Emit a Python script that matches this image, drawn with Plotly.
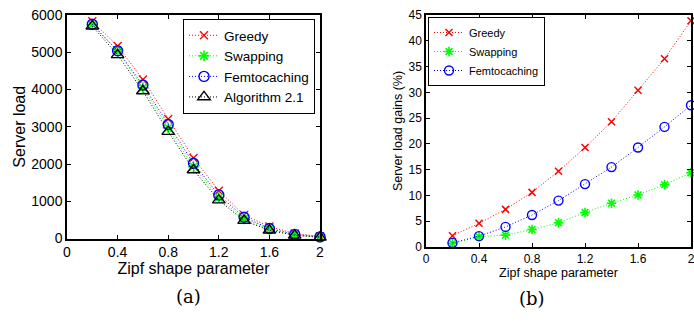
import plotly.graph_objects as go

zipf = [0.2, 0.4, 0.6, 0.8, 1.0, 1.2, 1.4, 1.6, 1.8, 2.0]

# (a) Server load
load_greedy = [5830, 5170, 4270, 3210, 2160, 1280, 630, 320, 135, 57]
load_swapping = [5740, 5030, 4050, 2970, 1930, 1100, 525, 245, 97, 37]
load_femto = [5750, 5040, 4120, 3060, 2020, 1170, 570, 270, 110, 44]
load_alg = [5700, 4930, 3960, 2870, 1840, 1030, 480, 220, 85, 32]

# (b) Server load gains (%)
gain_greedy = [2.2, 4.6, 7.3, 10.6, 14.7, 19.3, 24.3, 30.4, 36.5, 43.9]
gain_swapping = [0.7, 2.0, 2.3, 3.4, 4.7, 6.7, 8.5, 10.1, 12.1, 14.4]
gain_femto = [0.8, 2.1, 3.9, 6.2, 9.0, 12.2, 15.5, 19.3, 23.3, 27.5]

x_ticks = [0, 0.4, 0.8, 1.2, 1.6, 2]
x_ticklabels = ["0", "0.4", "0.8", "1.2", "1.6", "2"]
left_yticks = [0, 1000, 2000, 3000, 4000, 5000, 6000]
right_yticks = [0, 5, 10, 15, 20, 25, 30, 35, 40, 45]

W, H = 694, 330
FONT = "Liberation Sans, Arial, Helvetica, sans-serif"

RED, GREEN, BLUE, BLACK = "#ff0000", "#00ff00", "#0000ff", "#000000"
DOT = "1px,2px"

fig = go.Figure()

def add(x, y, name, color, symbol, size, xa, ya, legend, lw=1.3):
    fig.add_trace(go.Scatter(
        x=x, y=y, name=name, mode="lines+markers",
        line=dict(color=color, width=1, dash=DOT),
        marker=dict(symbol=symbol, size=size, color=color,
                    line=dict(color=color, width=lw)),
        xaxis=xa, yaxis=ya, legend=legend, cliponaxis=False,
    ))

# left panel
add(zipf, load_greedy, "Greedy", RED, "x-thin-open", 8, "x", "y", "legend")
add(zipf, load_swapping, "Swapping", GREEN, "asterisk-open", 9, "x", "y", "legend", lw=1.6)
add(zipf, load_femto, "Femtocaching", BLUE, "circle-open", 10, "x", "y", "legend", lw=1.4)
add(zipf, load_alg, "Algorithm 2.1", BLACK, "triangle-up-open", 11, "x", "y", "legend", lw=1.4)

# right panel
add(zipf, gain_greedy, "Greedy", RED, "x-thin-open", 7, "x2", "y2", "legend2", lw=1.5)
add(zipf, gain_swapping, "Swapping", GREEN, "asterisk-open", 8, "x2", "y2", "legend2", lw=1.6)
add(zipf, gain_femto, "Femtocaching", BLUE, "circle-open", 9, "x2", "y2", "legend2", lw=1.4)

def px_dom_x(a, b):
    return [a / W, b / W]

def px_dom_y(top, bottom):
    return [(H - bottom) / H, (H - top) / H]

axis_common = dict(showgrid=False, zeroline=False, showline=True, linecolor="black",
                   mirror="ticks", ticks="inside", ticklen=4, tickcolor="black",
                   automargin=False, ticklabeloverflow="allow")

fig.update_layout(
    width=W, height=H,
    margin=dict(l=0, r=0, t=0, b=0),
    paper_bgcolor="white", plot_bgcolor="white",
    font=dict(family=FONT, color="black"),
    xaxis=dict(domain=px_dom_x(67, 320), range=[0, 2], tickvals=x_ticks,
               ticktext=x_ticklabels, tickfont=dict(size=14), linewidth=1.5,
               title=dict(text="Zipf shape parameter", font=dict(size=16), standoff=3),
               anchor="y", **axis_common),
    yaxis=dict(domain=px_dom_y(15, 238.5), range=[0, 6000], tickvals=left_yticks,
               tickfont=dict(size=14), linewidth=1.5,
               title=dict(text="Server load", font=dict(size=16), standoff=2),
               anchor="x", **axis_common),
    xaxis2=dict(domain=px_dom_x(426, 691), range=[0, 2], tickvals=x_ticks,
                ticktext=x_ticklabels, tickfont=dict(size=12), linewidth=1.5,
                title=dict(text="Zipf shape parameter", font=dict(size=12.5), standoff=3),
                anchor="y2", **axis_common),
    yaxis2=dict(domain=px_dom_y(15, 247), range=[0, 45], tickvals=right_yticks,
                tickfont=dict(size=12), linewidth=1.5,
                title=dict(text="Server load gains (%)", font=dict(size=12.5), standoff=3),
                anchor="x2", **axis_common),
    legend=dict(x=315 / W, xanchor="right", y=(H - 19) / H, yanchor="top",
                bgcolor="white", bordercolor="black", borderwidth=1,
                font=dict(size=13.5), itemwidth=30, tracegroupgap=0),
    legend2=dict(x=428 / W, xanchor="left", y=(H - 17) / H, yanchor="top",
                 bgcolor="white", bordercolor="black", borderwidth=1,
                 font=dict(size=11), itemwidth=30, tracegroupgap=0),
    annotations=[
        dict(text="(a)", x=174 / W, y=(H - 309) / H, xref="paper", yref="paper",
             showarrow=False, font=dict(family="DejaVu Serif, Liberation Serif, serif", size=18)),
        dict(text="(b)", x=547 / W, y=(H - 311) / H, xref="paper", yref="paper",
             showarrow=False, font=dict(family="DejaVu Serif, Liberation Serif, serif", size=18)),
    ],
)

fig.write_html("out.html")
